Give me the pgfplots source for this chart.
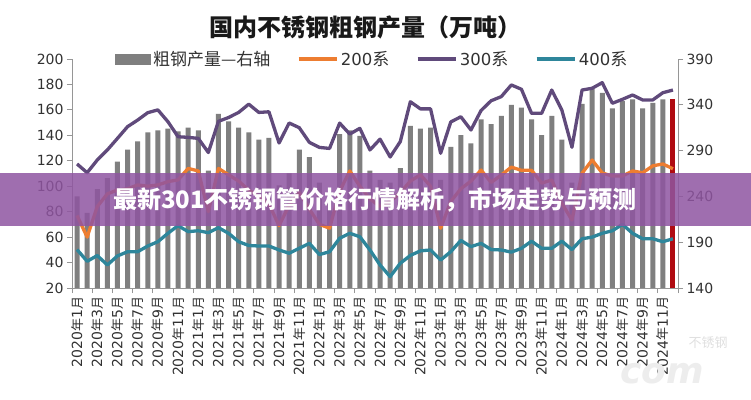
\documentclass[border=0pt]{standalone}
\usepackage{fontspec}
\setmainfont{DejaVu Sans}
\newfontfamily\cjk{Noto Sans CJK SC}
\usepackage{pgfplots}
\usepackage{pgfplotstable}
\pgfplotsset{compat=1.18}

\definecolor{barg}{RGB}{127,127,127}
\definecolor{s200}{RGB}{237,125,49}
\definecolor{s300}{RGB}{96,74,123}
\definecolor{s400}{RGB}{46,134,155}
\definecolor{lastred}{RGB}{176,12,18}
\definecolor{band}{RGB}{143,85,161}
\definecolor{axgray}{RGB}{150,150,150}
\definecolor{ticktext}{RGB}{50,50,50}

\newcommand\cj[1]{{\cjk\fontsize{13bp}{13bp}\selectfont #1}}
\newcommand\ym[2]{#1\cj{年}#2\cj{月}}
\newcommand\legfont{\fontsize{16.5bp}{16.5bp}\selectfont}
\newcommand\lcj[1]{{\cjk\fontsize{17bp}{17bp}\selectfont #1}}

% month index, crude steel (right axis), 200 / 300 / 400 series (left axis)
\pgfplotstableread{
i  bar  s200   s300   s400
0  240  77     117.5  50.2
1  222  60     110.6  41
2  248  84     120.6  45.5
3  260  94     128.5  38.1
4  278  97     137.6  45.2
5  291  98     146.8  48.5
6  300  101    152    48.5
7  310  100    157.8  53
8  312  101    160    56.4
9  314  103.6  150.7  63
10 311  105    138.9  69
11 315  114    138.4  64.3
12 312  112    137.6  65
13 268  80     126.5  63.5
14 330  114    151    67.4
15 322  109    154    63
16 315  104    158    56.4
17 310  97     164.5  53.4
18 302  92     158    53
19 304  86     158.5  53
20 252  69     134    49.9
21 265  85     149.7  47.3
22 291  95     146    51.2
23 283  82     134.5  55.1
24 255  70     130.5  46.3
25 245  67     129.7  48.5
26 308  96     149.6  59.1
27 312  112    141    63
28 306  100    145.5  60.3
29 268  90     128.5  49.9
30 258  84     137    38.1
31 255  88     123    28.9
32 271  95     135    39.4
33 317  104    166.4  45.6
34 314  109    160.8  49.2
35 315  100    160.8  49.9
36 258  67     125.9  42
37 294  88     150.5  48.5
38 307  98     154.6  57.4
39 298  104    144.2  52.5
40 324  112.7  159.5  55.1
41 319  103    167.2  50.2
42 328  108.8  170.4  49.9
43 340  115    179.6  48.2
44 337  112.5  176.2  51.2
45 324  112.5  157.3  56.8
46 307  102.5  157.3  51.2
47 328  104.9  175.6  51.2
48 302  86.6   159.9  56.8
49 255  73.4   130.6  50.2
50 341  110.2  175.6  58.7
51 357  120.6  177    60
52 353  110.4  181.4  63
53 336  108    165.2  65
54 344  108    168.3  70
55 346  112    171.7  63
56 336  110.6  167.8  58.7
57 342  116    167.8  58.7
58 346  117.5  173.5  56.4
59 346  113.7  175.6  58.7
}\datatab

\pgfplotsset{
  common/.style={
    at={(72bp,112bp)}, anchor=south west, scale only axis,
    width=606bp, height=229bp,
    xmin=-0.5, xmax=59.5,
    tick align=outside, major tick length=5bp, minor tick length=5bp,
    axis line style={axgray, line width=0.8bp, -},
    every tick/.style={axgray, line width=0.8bp},
    /pgf/number format/assume math mode=true,
    ticklabel style={font=\fontsize{14bp}{14bp}\selectfont, text=ticktext},
  },
  lineleg/.style={legend image code/.code={%
    \draw[##1, line width=3.5bp] (0bp,0bp) -- (38bp,0bp);}},
  barleg/.style={legend image code/.code={%
    \fill[barg] (0bp,-5bp) rectangle (35bp,5bp);}},
}

\begin{document}
\begin{tikzpicture}
\path[use as bounding box, fill=white] (0,0) rectangle (751bp,400bp);

% crude steel output, right axis
\begin{axis}[common,
  ymin=140, ymax=390, ytick={140,190,...,390},
  axis x line=none, axis y line*=right,
]
\addplot[ybar, bar width=5bp, bar shift=0pt, fill=barg, draw=none,
  restrict x to domain=0:58] table[x=i, y=bar] {\datatab};
\addplot[ybar, bar width=5bp, bar shift=0pt, fill=lastred, draw=none,
  restrict x to domain=59:59] table[x=i, y=bar] {\datatab};
\end{axis}

% 200 / 300 / 400 series, left axis
\begin{axis}[common,
  ymin=20, ymax=200, ytick={20,40,...,200},
  axis x line*=bottom, axis y line*=left,
  xtick={0,2,...,58},
  major x tick style={draw=none},
  minor xtick={-0.5,1.5,...,59.5},
  xticklabel style={rotate=90, anchor=east},
  xticklabels={\ym{2020}{1},\ym{2020}{3},\ym{2020}{5},\ym{2020}{7},\ym{2020}{9},\ym{2020}{11},
    \ym{2021}{1},\ym{2021}{3},\ym{2021}{5},\ym{2021}{7},\ym{2021}{9},\ym{2021}{11},
    \ym{2022}{1},\ym{2022}{3},\ym{2022}{5},\ym{2022}{7},\ym{2022}{9},\ym{2022}{11},
    \ym{2023}{1},\ym{2023}{3},\ym{2023}{5},\ym{2023}{7},\ym{2023}{9},\ym{2023}{11},
    \ym{2024}{1},\ym{2024}{3},\ym{2024}{5},\ym{2024}{7},\ym{2024}{9},\ym{2024}{11}},
  legend style={at={(rel axis cs:0.071,1)}, anchor=west, draw=none, fill=none,
    inner sep=0pt, font=\legfont, text=ticktext,
    nodes={inner sep=2.5bp},
    /tikz/every even column/.append style={column sep=24bp}},
  legend columns=4, legend cell align=left,
]
\addlegendimage{barleg}
\addlegendentry{\lcj{粗钢产量—右轴}}
\addplot[s200, line width=3.3bp, line join=round, no markers, lineleg]
  table[x=i, y=s200] {\datatab};
\addlegendentry{200\lcj{系}}
\addplot[s300, line width=3.3bp, line join=round, no markers, lineleg]
  table[x=i, y=s300] {\datatab};
\addlegendentry{300\lcj{系}}
\addplot[s400, line width=3.3bp, line join=round, no markers, lineleg]
  table[x=i, y=s400] {\datatab};
\addlegendentry{400\lcj{系}}
\end{axis}

% title
\node[font=\cjk\bfseries\fontsize{24bp}{24bp}\selectfont, text=black!90] at (365bp,373bp)
  {国内不锈钢粗钢产量（万吨）};

% watermark
\node[inner sep=0pt, font=\cjk\fontsize{13bp}{13bp}\selectfont, text=black!12] at (708bp,57bp) {不锈钢};
\node[inner sep=0pt, font=\bfseries\itshape\fontsize{36bp}{36bp}\selectfont, text=black!7] at (662bp,26bp) {com};

% banner
\fill[band, opacity=0.85] (0,174bp) rectangle (751bp,227bp);
\node[font=\cjk\bfseries\fontsize{24bp}{24bp}\selectfont, text=white] at (375bp,200bp)
  {最新301不锈钢管价格行情解析，市场走势与预测};
\end{tikzpicture}
\end{document}
